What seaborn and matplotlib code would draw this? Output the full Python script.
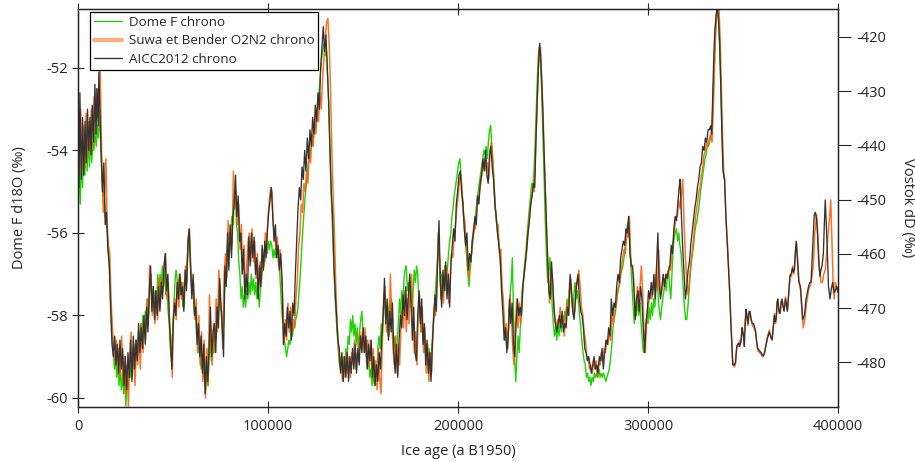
import numpy as np
import pandas as pd
import matplotlib
matplotlib.use("Agg")
import matplotlib.pyplot as plt
import seaborn as sns

# series names (legend order) and axis ticks
series_labels = ["Dome F chrono", "Suwa et Bender O2N2 chrono", "AICC2012 chrono"]
age_ticks = [0, 100000, 200000, 300000, 400000]
d18o_ticks = [-60, -58, -56, -54, -52]
dD_ticks = [-480, -470, -460, -450, -440, -430, -420]

# (age in ka, Dome F d18O)
domef_chrono = [
    (0.0, -55.2), (0.6, -54.6), (1.2, -55.3), (1.8, -54.2), (2.4, -54.9), (3.0, -53.9), (3.6, -54.6),
    (4.2, -53.8), (4.8, -54.5), (5.4, -53.6), (6.0, -54.4), (6.6, -53.7), (7.2, -54.3), (7.8, -53.8),
    (8.4, -54.0), (9.0, -53.5), (9.6, -53.9), (10.2, -53.4), (10.8, -53.7), (11.4, -53.0), (12.0, -53.6),
    (12.6, -54.5), (13.2, -55.1), (13.8, -55.0), (14.4, -55.6), (15.0, -55.8), (15.6, -56.1), (16.2, -56.5),
    (16.8, -57.2), (17.4, -57.9), (18.0, -58.5), (18.6, -58.9), (19.2, -59.3), (19.8, -59.0), (20.4, -59.5),
    (21.0, -59.2), (21.6, -59.7), (22.2, -59.3), (22.8, -59.8), (23.4, -59.4), (24.0, -59.9), (24.6, -59.5),
    (25.2, -60.2), (25.8, -59.4), (26.4, -59.8), (27.0, -59.2), (27.6, -59.5), (28.2, -58.9), (28.8, -59.3),
    (29.4, -58.7), (30.0, -59.1), (30.6, -58.6), (31.2, -59.0), (31.8, -58.4), (32.4, -58.7), (33.0, -58.2),
    (33.6, -58.6), (34.2, -58.0), (34.8, -58.4), (35.4, -57.9), (36.0, -58.3), (36.6, -57.6), (37.2, -58.0),
    (37.8, -57.2), (38.4, -57.0), (39.0, -57.8), (39.6, -57.3), (40.2, -57.9), (40.8, -57.4), (41.4, -57.8),
    (42.0, -57.0), (42.6, -57.5), (43.2, -57.0), (43.8, -57.3), (44.4, -56.8), (45.0, -57.3), (45.6, -56.9),
    (46.2, -57.5), (46.8, -57.3), (47.4, -57.9), (48.0, -58.2), (48.6, -58.8), (49.2, -59.1), (49.8, -58.4),
    (50.4, -57.8), (51.0, -57.2), (51.6, -56.9), (52.2, -57.1), (52.8, -57.4), (53.4, -57.0), (54.0, -57.5),
    (54.6, -57.2), (55.2, -57.8), (55.8, -57.4), (56.4, -57.1), (57.0, -57.3), (57.6, -56.6), (58.2, -56.1),
    (58.8, -56.2), (59.4, -56.9), (60.0, -57.4), (60.6, -57.3), (61.2, -57.9), (61.8, -57.8), (62.4, -58.5),
    (63.0, -58.3), (63.6, -58.9), (64.2, -58.7), (64.8, -59.3), (65.4, -58.9), (66.0, -59.5), (66.6, -59.2),
    (67.2, -59.8), (67.8, -59.3), (68.4, -59.7), (69.0, -59.0), (69.6, -58.6), (70.2, -59.1), (70.8, -58.5),
    (71.4, -58.9), (72.0, -58.3), (72.6, -58.6), (73.2, -57.8), (73.8, -58.2), (74.4, -57.4), (75.0, -57.8),
    (75.6, -57.9), (76.2, -58.4), (76.8, -58.1), (77.4, -57.0), (78.0, -57.2), (78.6, -56.3), (79.2, -56.6),
    (79.8, -56.0), (80.4, -56.2), (81.0, -55.6), (81.6, -55.8), (82.2, -55.3), (82.8, -55.0), (83.4, -55.8),
    (84.0, -56.0), (84.6, -56.7), (85.2, -57.0), (85.8, -57.6), (86.4, -57.3), (87.0, -57.8), (87.6, -57.5),
    (88.2, -57.8), (88.8, -57.4), (89.4, -57.6), (90.0, -57.2), (90.6, -57.5), (91.2, -57.0), (91.8, -57.4),
    (92.4, -57.1), (93.0, -57.5), (93.6, -57.2), (94.2, -57.6), (94.8, -57.3), (95.4, -57.8), (96.0, -57.4),
    (96.6, -57.1), (97.2, -56.9), (97.8, -56.5), (98.4, -56.7), (99.0, -56.3), (99.6, -56.5), (100.2, -56.2),
    (100.8, -56.4), (101.4, -56.2), (102.0, -56.3), (102.6, -56.6), (103.2, -56.4), (103.8, -56.6),
    (104.4, -56.3), (105.0, -56.4), (105.6, -56.7), (106.2, -57.0), (106.8, -57.5), (107.4, -58.0),
    (108.0, -58.2), (108.6, -58.6), (109.2, -58.8), (109.8, -59.0), (110.4, -58.8), (111.0, -58.6),
    (111.6, -58.7), (112.2, -58.4), (112.8, -58.5), (113.4, -58.3), (114.0, -58.3), (114.6, -58.1),
    (115.2, -58.0), (115.8, -57.8), (116.4, -57.4), (117.0, -57.0), (117.6, -56.5), (118.2, -56.0),
    (118.8, -55.6), (119.4, -55.2), (120.0, -54.9), (120.6, -54.6), (121.2, -54.3), (121.8, -54.2),
    (122.4, -54.0), (123.0, -53.9), (123.6, -53.8), (124.2, -53.6), (124.8, -53.5), (125.4, -53.3),
    (126.0, -53.1), (126.6, -52.7), (127.2, -52.4), (127.8, -52.0), (128.4, -51.7), (129.0, -51.5),
    (129.6, -51.4), (130.2, -51.7), (130.8, -51.6), (131.4, -52.2), (132.0, -52.9), (132.6, -54.0),
    (133.2, -55.0), (133.8, -55.7), (134.4, -56.5), (135.0, -57.2), (135.6, -57.8), (136.2, -58.3),
    (136.8, -58.7), (137.4, -59.1), (138.0, -59.3), (138.6, -59.0), (139.2, -59.4), (139.8, -59.0),
    (140.4, -59.3), (141.0, -58.8), (141.6, -59.1), (142.2, -58.5), (142.8, -58.7), (143.4, -58.1),
    (144.0, -58.4), (144.6, -58.0), (145.2, -58.5), (145.8, -58.2), (146.4, -58.7), (147.0, -58.3),
    (147.6, -58.9), (148.2, -58.4), (148.8, -58.1), (149.4, -57.9), (150.0, -58.4), (150.6, -58.8),
    (151.2, -58.5), (151.8, -59.1), (152.4, -59.3), (153.0, -59.0), (153.6, -59.5), (154.2, -59.3),
    (154.8, -59.7), (155.4, -59.4), (156.0, -59.7), (156.6, -59.2), (157.2, -59.5), (157.8, -58.8),
    (158.4, -58.5), (159.0, -58.8), (159.6, -58.2), (160.2, -58.5), (160.8, -57.8), (161.4, -57.6),
    (162.0, -58.2), (162.6, -57.9), (163.2, -58.5), (163.8, -57.7), (164.4, -58.0), (165.0, -57.6),
    (165.6, -58.2), (166.2, -58.8), (166.8, -58.5), (167.4, -59.1), (168.0, -58.6), (168.6, -58.2),
    (169.2, -57.6), (169.8, -58.0), (170.4, -57.4), (171.0, -57.8), (171.6, -57.1), (172.2, -56.9),
    (172.8, -56.8), (173.4, -57.4), (174.0, -57.2), (174.6, -57.8), (175.2, -57.3), (175.8, -57.9),
    (176.4, -57.4), (177.0, -56.9), (177.6, -57.2), (178.2, -56.8), (178.8, -57.0), (179.4, -57.6),
    (180.0, -58.0), (180.6, -58.4), (181.2, -58.1), (181.8, -58.7), (182.4, -58.5), (183.0, -59.0),
    (183.6, -58.7), (184.2, -59.2), (184.8, -58.8), (185.4, -59.3), (186.0, -58.9), (186.6, -58.5),
    (187.2, -58.0), (187.8, -57.6), (188.4, -57.2), (189.0, -56.8), (189.6, -56.4), (190.2, -56.6),
    (190.8, -57.2), (191.4, -57.0), (192.0, -57.5), (192.6, -57.1), (193.2, -57.4), (193.8, -56.8),
    (194.4, -56.9), (195.0, -56.5), (195.6, -56.2), (196.2, -56.0), (196.8, -55.6), (197.4, -55.4),
    (198.0, -55.1), (198.6, -54.9), (199.2, -54.7), (199.8, -54.5), (200.4, -54.3), (201.0, -54.2),
    (201.6, -54.6), (202.2, -55.0), (202.8, -55.4), (203.4, -55.9), (204.0, -56.3), (204.6, -56.6),
    (205.2, -57.0), (205.8, -57.3), (206.4, -56.9), (207.0, -56.6), (207.6, -56.3), (208.2, -56.0),
    (208.8, -55.7), (209.4, -55.5), (210.0, -55.2), (210.6, -55.0), (211.2, -54.8), (211.8, -54.6),
    (212.4, -54.4), (213.0, -54.2), (213.6, -54.0), (214.2, -54.1), (214.8, -53.9), (215.4, -54.2),
    (216.0, -53.8), (216.6, -53.5), (217.2, -53.4), (217.8, -53.9), (218.4, -54.3), (219.0, -54.8),
    (219.6, -55.4), (220.2, -55.7), (220.8, -56.0), (221.4, -56.2), (222.0, -56.5), (222.6, -56.9),
    (223.2, -57.3), (223.8, -57.8), (224.4, -58.3), (225.0, -58.6), (225.6, -58.4), (226.2, -58.8),
    (226.8, -58.0), (227.4, -57.5), (228.0, -57.2), (228.6, -56.6), (229.2, -57.9), (229.8, -59.0),
    (230.4, -59.6), (231.0, -59.0), (231.6, -58.5), (232.2, -58.9), (232.8, -58.3), (233.4, -58.0),
    (234.0, -57.5), (234.6, -57.0), (235.2, -56.7), (235.8, -56.4), (236.4, -56.0), (237.0, -55.7),
    (237.6, -55.4), (238.2, -55.1), (238.8, -54.8), (239.4, -54.9), (240.0, -54.5), (240.6, -53.8),
    (241.2, -53.0), (241.8, -52.2), (242.4, -51.6), (243.0, -51.5), (243.6, -52.0), (244.2, -52.8),
    (244.8, -53.8), (245.4, -54.8), (246.0, -55.8), (246.6, -56.6), (247.2, -57.2), (247.8, -57.0),
    (248.4, -56.6), (249.0, -57.1), (249.6, -57.8), (250.2, -58.2), (250.8, -58.5), (251.4, -58.3),
    (252.0, -58.6), (252.6, -58.2), (253.2, -58.5), (253.8, -58.1), (254.4, -58.4), (255.0, -58.0),
    (255.6, -58.3), (256.2, -57.9), (256.8, -58.1), (257.4, -57.6), (258.0, -57.9), (258.6, -57.4),
    (259.2, -57.2), (259.8, -57.6), (260.4, -57.9), (261.0, -57.5), (261.6, -57.2), (262.2, -57.6),
    (262.8, -57.4), (263.4, -57.7), (264.0, -58.0), (264.6, -58.3), (265.2, -58.6), (265.8, -58.9),
    (266.4, -59.1), (267.0, -59.2), (267.6, -59.5), (268.2, -59.4), (268.8, -59.6), (269.4, -59.5),
    (270.0, -59.7), (270.6, -59.5), (271.2, -59.6), (271.8, -59.4), (272.4, -59.5), (273.0, -59.4),
    (273.6, -59.5), (274.2, -59.3), (274.8, -59.5), (275.4, -59.4), (276.0, -59.5), (276.6, -59.4),
    (277.2, -59.5), (277.8, -59.6), (278.4, -59.5), (279.0, -59.4), (279.6, -59.3), (280.2, -59.1),
    (280.8, -58.8), (281.4, -58.4), (282.0, -58.1), (282.6, -58.0), (283.2, -57.8), (283.8, -57.5),
    (284.4, -57.4), (285.0, -57.2), (285.6, -57.0), (286.2, -56.9), (286.8, -56.8), (287.4, -56.6),
    (288.0, -56.3), (288.6, -56.0), (289.2, -55.8), (289.8, -55.7), (290.4, -56.2), (291.0, -56.8),
    (291.6, -57.3), (292.2, -57.8), (292.8, -58.2), (293.4, -57.8), (294.0, -58.0), (294.6, -57.6),
    (295.2, -58.0), (295.8, -57.7), (296.4, -58.2), (297.0, -58.6), (297.6, -58.9), (298.2, -58.7),
    (298.8, -58.4), (299.4, -58.0), (300.0, -58.2), (300.6, -57.8), (301.2, -58.1), (301.8, -57.7),
    (302.4, -58.0), (303.0, -57.6), (303.6, -57.8), (304.2, -57.3), (304.8, -57.1), (305.4, -57.6),
    (306.0, -57.9), (306.6, -58.1), (307.2, -57.8), (307.8, -57.6), (308.4, -57.4), (309.0, -57.2),
    (309.6, -57.4), (310.2, -57.0), (310.8, -56.9), (311.4, -57.3), (312.0, -57.6), (312.6, -57.0),
    (313.2, -56.4), (313.8, -56.1), (314.4, -56.0), (315.0, -55.9), (315.6, -56.2), (316.2, -56.0),
    (316.8, -56.3), (317.4, -56.5), (318.0, -56.9), (318.6, -57.4), (319.2, -57.8), (319.8, -58.1),
    (320.4, -58.1), (321.0, -57.8), (321.6, -57.4), (322.2, -57.0), (322.8, -56.7), (323.4, -56.5),
    (324.0, -56.3), (324.6, -56.0), (325.2, -55.8), (325.8, -55.7), (326.4, -55.5), (327.0, -55.3),
    (327.6, -55.0), (328.2, -54.8), (328.8, -54.6), (329.4, -54.4), (330.0, -54.2), (330.6, -54.1),
    (331.2, -53.9), (331.8, -53.9), (332.4, -53.8), (333.0, -53.7), (333.6, -53.6), (334.2, -52.8),
    (334.8, -51.9), (335.4, -51.1), (336.0, -50.7), (336.6, -50.6), (337.2, -50.9), (337.8, -51.6),
    (338.4, -52.6), (339.0, -53.7), (339.6, -54.5), (340.2, -54.7),
]

# (age in ka, d18O) on the Suwa & Bender O2/N2 chronology
suwa_chrono = [
    (0.0, -54.0), (0.7, -54.6), (1.4, -53.0), (2.1, -54.5), (2.8, -53.4), (3.5, -54.4), (4.2, -53.1),
    (4.9, -54.2), (5.6, -53.3), (6.3, -54.0), (7.0, -53.0), (7.7, -53.9), (8.4, -52.7), (9.1, -53.6),
    (9.8, -52.5), (10.5, -53.2), (11.2, -52.4), (11.6, -51.9), (12.0, -52.9), (12.6, -54.6), (13.3, -55.5),
    (14.0, -55.0), (14.7, -54.2), (15.3, -55.7), (16.0, -56.3), (16.7, -56.5), (17.4, -57.6), (18.1, -58.3),
    (18.8, -58.9), (19.5, -59.1), (20.2, -58.6), (20.9, -59.3), (21.6, -58.8), (22.3, -59.5), (23.0, -58.5),
    (23.7, -59.6), (24.4, -59.0), (25.1, -59.9), (25.8, -59.2), (26.5, -60.2), (27.2, -59.1), (27.9, -58.4),
    (28.6, -59.5), (29.3, -58.7), (30.0, -59.7), (30.7, -58.6), (31.4, -59.2), (32.1, -58.4), (32.8, -59.3),
    (33.5, -58.2), (34.2, -58.9), (34.9, -58.1), (35.6, -58.6), (36.3, -57.6), (37.0, -58.2), (37.7, -56.8),
    (38.4, -57.1), (39.1, -58.0), (39.8, -57.4), (40.5, -58.2), (41.2, -57.5), (41.9, -58.1), (42.6, -57.1),
    (43.3, -57.8), (44.0, -57.1), (44.7, -57.4), (45.4, -56.7), (46.1, -56.5), (46.8, -57.6), (47.5, -57.2),
    (48.2, -58.2), (48.9, -58.6), (49.6, -59.5), (50.3, -58.0), (51.0, -57.6), (51.7, -58.1), (52.4, -57.1),
    (53.1, -57.8), (53.8, -57.0), (54.5, -57.6), (55.2, -57.2), (55.9, -57.8), (56.6, -56.8), (57.3, -57.2),
    (58.0, -56.1), (58.7, -55.9), (59.4, -57.0), (60.1, -57.5), (60.8, -57.2), (61.5, -58.1), (62.2, -57.6),
    (62.9, -58.9), (63.6, -58.0), (64.3, -59.2), (65.0, -58.4), (65.7, -59.6), (66.4, -58.6), (67.1, -60.0),
    (67.8, -58.8), (68.5, -59.7), (69.2, -57.5), (69.9, -58.6), (70.6, -59.2), (71.3, -58.2), (72.0, -58.9),
    (72.7, -57.6), (73.4, -58.4), (74.1, -56.9), (74.8, -57.6), (75.5, -57.9), (76.2, -58.8), (76.9, -57.0),
    (77.6, -56.5), (78.3, -57.1), (79.0, -55.7), (79.7, -56.5), (80.4, -55.9), (81.1, -56.3), (81.8, -54.5),
    (82.5, -55.4), (83.2, -55.0), (83.9, -55.8), (84.6, -55.3), (85.3, -56.4), (86.0, -55.8), (86.7, -56.9),
    (87.4, -56.3), (88.1, -57.5), (88.8, -56.8), (89.5, -56.2), (90.2, -56.0), (90.9, -56.7), (91.6, -55.9),
    (92.3, -56.7), (93.0, -56.2), (93.7, -57.1), (94.4, -56.5), (95.1, -57.4), (95.8, -56.7), (96.5, -57.2),
    (97.2, -56.4), (97.9, -56.8), (98.6, -56.0), (99.3, -56.4), (100.0, -55.6), (100.7, -55.2),
    (101.4, -54.9), (102.1, -55.0), (102.8, -55.8), (103.5, -56.0), (104.2, -56.4), (104.9, -56.1),
    (105.6, -56.8), (106.3, -56.4), (107.0, -57.0), (107.7, -57.5), (108.4, -58.7), (109.1, -58.1),
    (109.8, -58.6), (110.5, -57.7), (111.2, -58.4), (111.9, -57.8), (112.6, -58.5), (113.3, -58.1),
    (114.0, -58.3), (114.7, -57.6), (115.4, -57.2), (116.1, -56.3), (116.8, -56.0), (117.5, -55.3),
    (118.2, -55.5), (118.9, -54.8), (119.6, -55.0), (120.3, -54.5), (121.0, -54.8), (121.7, -54.0),
    (122.4, -54.3), (123.1, -53.6), (123.8, -53.9), (124.5, -53.2), (125.2, -53.6), (125.9, -53.0),
    (126.6, -53.3), (127.3, -52.6), (128.0, -53.0), (128.7, -52.3), (129.4, -51.8), (130.1, -51.3),
    (130.8, -50.9), (131.5, -50.8), (132.2, -51.4), (132.9, -52.5), (133.6, -54.0), (134.3, -55.1),
    (135.0, -56.1), (135.7, -57.3), (136.4, -58.2), (137.1, -58.8), (137.8, -59.2), (138.5, -59.0),
    (139.2, -59.6), (139.9, -59.1), (140.6, -59.5), (141.3, -58.9), (142.0, -59.4), (142.7, -59.0),
    (143.4, -59.5), (144.1, -58.9), (144.8, -59.2), (145.5, -58.6), (146.2, -59.3), (146.9, -58.9),
    (147.6, -59.1), (148.3, -58.4), (149.0, -58.8), (149.7, -58.4), (150.4, -58.9), (151.1, -58.3),
    (151.8, -59.0), (152.5, -58.6), (153.2, -59.2), (153.9, -58.6), (154.6, -59.3), (155.3, -58.8),
    (156.0, -59.6), (156.7, -59.1), (157.4, -59.8), (158.1, -58.8), (158.8, -59.5), (159.5, -59.9),
    (160.2, -58.6), (160.9, -57.6), (161.6, -57.3), (162.3, -58.4), (163.0, -57.8), (163.7, -58.5),
    (164.4, -57.0), (165.1, -58.1), (165.8, -58.8), (166.5, -59.2), (167.2, -58.5), (167.9, -59.4),
    (168.6, -58.7), (169.3, -59.2), (170.0, -58.2), (170.7, -57.8), (171.4, -58.3), (172.1, -57.4),
    (172.8, -58.4), (173.5, -57.6), (174.2, -58.2), (174.9, -57.3), (175.6, -57.0), (176.3, -58.0),
    (177.0, -58.9), (177.7, -58.4), (178.4, -59.2), (179.1, -57.9), (179.8, -57.5), (180.5, -58.4),
    (181.2, -57.8), (181.9, -58.9), (182.6, -58.3), (183.3, -59.4), (184.0, -58.7), (184.7, -59.6),
    (185.4, -58.9), (186.1, -59.4), (186.8, -58.4), (187.5, -57.8), (188.2, -58.0), (188.9, -57.2),
    (189.6, -56.0), (190.3, -56.6), (191.0, -57.6), (191.7, -57.2), (192.4, -57.7), (193.1, -56.8),
    (193.8, -57.3), (194.5, -56.9), (195.2, -57.7), (195.9, -57.1), (196.6, -56.5), (197.3, -56.6),
    (198.0, -56.0), (198.7, -55.8), (199.4, -55.4), (200.1, -55.1), (200.8, -54.7), (201.5, -54.6),
    (202.2, -55.1), (202.9, -55.6), (203.6, -55.7), (204.3, -56.3), (205.0, -56.7), (205.7, -57.1),
    (206.4, -56.6), (207.1, -56.5), (207.8, -56.0), (208.5, -55.8), (209.2, -55.9), (209.9, -55.4),
    (210.6, -55.2), (211.3, -55.0), (212.0, -54.8), (212.7, -54.5), (213.4, -54.4), (214.1, -54.2),
    (214.8, -54.5), (215.5, -54.3), (216.2, -54.7), (216.9, -54.0), (217.6, -53.8), (218.3, -54.2),
    (219.0, -54.9), (219.7, -55.4), (220.4, -55.8), (221.1, -55.8), (221.8, -56.5), (222.5, -56.4),
    (223.2, -57.3), (223.9, -57.7), (224.6, -58.4), (225.3, -58.2), (226.0, -58.8), (226.7, -58.3),
    (227.4, -57.5), (228.1, -58.0), (228.8, -58.8), (229.5, -59.2), (230.2, -58.3), (230.9, -57.6),
    (231.6, -58.3), (232.3, -57.7), (233.0, -58.2), (233.7, -57.4), (234.4, -57.2), (235.1, -56.9),
    (235.8, -56.6), (236.5, -56.1), (237.2, -55.8), (237.9, -55.4), (238.6, -55.2), (239.3, -54.9),
    (240.0, -55.0), (240.7, -54.2), (241.4, -53.2), (242.1, -52.2), (242.8, -51.5), (243.4, -51.5),
    (244.0, -52.2), (244.7, -53.0), (245.4, -54.2), (246.1, -55.2), (246.8, -56.2), (247.5, -57.0),
    (248.2, -57.7), (248.9, -56.9), (249.6, -57.1), (250.3, -57.7), (251.0, -58.1), (251.7, -58.3),
    (252.4, -58.1), (253.1, -58.2), (253.8, -57.8), (254.5, -58.2), (255.2, -58.0), (255.9, -58.5),
    (256.6, -58.1), (257.3, -57.7), (258.0, -58.0), (258.7, -57.2), (259.4, -57.1), (260.1, -57.7),
    (260.8, -58.0), (261.5, -57.9), (262.2, -57.3), (262.9, -57.2), (263.6, -56.9), (264.3, -57.3),
    (265.0, -57.8), (265.7, -58.0), (266.4, -58.4), (267.1, -58.6), (267.8, -59.0), (268.5, -59.0),
    (269.2, -59.3), (269.9, -59.2), (270.6, -59.4), (271.3, -59.1), (272.0, -59.3), (272.7, -59.1),
    (273.4, -59.5), (274.1, -59.1), (274.8, -59.2), (275.5, -58.9), (276.2, -59.1), (276.9, -58.8),
    (277.6, -58.9), (278.3, -58.6), (279.0, -58.7), (279.7, -58.4), (280.4, -58.6), (281.1, -57.9),
    (281.8, -58.2), (282.5, -57.7), (283.2, -57.8), (283.9, -57.4), (284.6, -57.3), (285.3, -57.2),
    (286.0, -56.8), (286.7, -56.6), (287.4, -56.4), (288.1, -56.5), (288.8, -56.0), (289.5, -56.1),
    (290.2, -55.6), (290.9, -56.6), (291.6, -56.9), (292.3, -57.0), (293.0, -57.6), (293.7, -58.0),
    (294.4, -57.3), (295.1, -57.6), (295.8, -57.3), (296.5, -56.8), (297.2, -57.4), (297.9, -58.4),
    (298.6, -58.9), (299.3, -58.1), (300.0, -57.8), (300.7, -57.6), (301.4, -57.4), (302.1, -57.6),
    (302.8, -57.2), (303.5, -57.3), (304.2, -57.0), (304.9, -57.4), (305.6, -56.4), (306.3, -57.2),
    (307.0, -57.5), (307.7, -57.3), (308.4, -57.1), (309.1, -57.2), (309.8, -57.0), (310.5, -57.1),
    (311.2, -56.8), (311.9, -56.9), (312.6, -56.4), (313.3, -56.2), (314.0, -55.9), (314.7, -55.6),
    (315.4, -55.6), (316.1, -55.2), (316.8, -55.4), (317.5, -55.1), (318.3, -54.7), (319.0, -55.8),
    (319.7, -56.6), (320.4, -57.2), (321.1, -57.5), (321.8, -57.2), (322.5, -56.8), (323.2, -56.5),
    (323.9, -56.2), (324.6, -55.8), (325.3, -55.5), (326.0, -55.3), (326.7, -55.0), (327.4, -54.9),
    (328.1, -54.6), (328.8, -54.4), (329.5, -54.1), (330.2, -54.0), (330.9, -53.8), (331.6, -53.9),
    (332.3, -53.7), (333.0, -53.6), (333.7, -53.8), (334.4, -53.0), (335.0, -52.0), (335.6, -51.2),
    (336.2, -50.7), (336.8, -50.5), (337.4, -50.6), (338.0, -51.3), (338.6, -52.5), (339.2, -53.6),
    (339.8, -54.5), (340.3, -54.7), (341.0, -55.6), (342.0, -56.4), (343.0, -57.4), (343.8, -58.3),
    (344.6, -59.1), (345.3, -59.25), (346.0, -59.2), (346.7, -58.8), (347.2, -58.7), (347.8, -58.75),
    (348.3, -58.6), (349.0, -58.65), (349.5, -58.3), (350.0, -58.45), (350.5, -58.55), (351.0, -58.2),
    (351.5, -57.9), (352.0, -58.05), (352.6, -58.25), (353.2, -57.95), (353.8, -58.0), (354.4, -58.15),
    (355.1, -58.25), (355.8, -58.3), (356.6, -58.4), (357.2, -58.65), (357.8, -58.85), (358.7, -58.9),
    (359.6, -58.95), (360.2, -59.0), (360.8, -58.98), (361.4, -58.9), (362.1, -58.7), (363.0, -58.5),
    (363.9, -58.35), (364.6, -58.55), (365.4, -58.55), (366.0, -58.25), (366.6, -57.95), (367.1, -58.2),
    (367.6, -58.05), (368.1, -57.65), (368.5, -57.7), (369.1, -57.95), (369.7, -57.9), (370.2, -57.65),
    (370.7, -57.65), (371.2, -57.8), (371.8, -57.85), (372.4, -57.55), (372.9, -57.75), (373.5, -57.85),
    (374.2, -57.4), (374.9, -57.0), (375.5, -57.05), (376.2, -56.8), (376.7, -57.0), (377.2, -56.85),
    (377.7, -56.4), (378.2, -56.25), (378.8, -56.7), (379.5, -57.2), (380.4, -57.4), (381.0, -57.8),
    (381.7, -58.3), (382.5, -58.1), (383.4, -57.7), (384.7, -57.35), (385.5, -57.25), (386.2, -57.1),
    (387.0, -56.8), (387.8, -56.0), (388.8, -55.55), (389.5, -56.2), (390.3, -56.9), (391.0, -57.2),
    (391.8, -57.2), (392.5, -57.0), (393.3, -56.9), (394.0, -56.5), (394.8, -56.0), (395.6, -55.6),
    (396.2, -55.2), (396.9, -56.3), (397.5, -57.3), (398.0, -57.6), (398.6, -57.2), (399.2, -57.3),
    (400.0, -57.35),
]

# (age in ka, d18O) on the AICC2012 chronology
aicc_chrono = [
    (0.0, -53.9), (0.5, -54.9), (1.0, -52.6), (1.7, -54.7), (2.4, -53.2), (3.0, -54.6), (3.7, -53.3),
    (4.3, -54.3), (5.0, -53.0), (5.6, -54.0), (6.3, -53.2), (6.9, -54.1), (7.5, -52.9), (8.2, -53.8),
    (8.9, -52.4), (9.5, -53.6), (10.0, -52.5), (10.6, -53.4), (11.0, -52.1), (11.5, -53.0), (12.2, -54.2),
    (12.9, -55.0), (13.6, -54.3), (14.3, -55.8), (15.0, -55.5), (15.7, -56.4), (16.5, -56.8), (17.2, -57.9),
    (17.9, -58.7), (18.6, -59.0), (19.3, -58.5), (20.0, -59.2), (20.7, -58.7), (21.4, -59.4), (22.1, -58.6),
    (22.8, -59.3), (23.5, -58.8), (24.2, -59.7), (24.9, -59.0), (25.6, -59.8), (26.3, -58.9), (27.0, -59.5),
    (27.7, -58.6), (28.4, -59.6), (29.1, -58.5), (29.8, -59.3), (30.5, -58.6), (31.2, -59.1), (31.9, -58.2),
    (32.6, -58.9), (33.3, -58.3), (34.0, -58.8), (34.7, -58.0), (35.4, -58.7), (36.1, -57.8), (36.8, -58.4),
    (37.5, -57.5), (38.2, -56.8), (38.9, -57.9), (39.6, -57.3), (40.3, -58.1), (41.0, -57.4), (41.7, -58.0),
    (42.4, -57.3), (43.1, -57.9), (43.8, -57.2), (44.5, -57.6), (45.2, -56.9), (45.9, -56.5), (46.6, -57.4),
    (47.3, -57.0), (48.0, -58.0), (48.7, -58.7), (49.4, -59.3), (50.1, -58.2), (50.8, -57.7), (51.5, -58.0),
    (52.2, -57.2), (52.9, -57.6), (53.6, -57.0), (54.3, -57.5), (55.0, -57.3), (55.7, -57.9), (56.4, -56.9),
    (57.1, -57.4), (57.8, -56.3), (58.5, -55.9), (59.2, -56.8), (59.9, -57.6), (60.6, -57.0), (61.3, -58.0),
    (62.0, -57.8), (62.7, -58.7), (63.4, -58.2), (64.1, -59.0), (64.8, -58.5), (65.5, -59.4), (66.2, -58.7),
    (66.9, -59.9), (67.6, -59.0), (68.3, -59.6), (69.0, -58.8), (69.7, -57.8), (70.4, -59.0), (71.1, -58.4),
    (71.8, -58.2), (72.5, -58.9), (73.2, -57.8), (73.9, -58.3), (74.6, -57.1), (75.3, -57.8), (76.0, -58.4),
    (76.6, -59.0), (77.3, -56.8), (78.0, -57.3), (78.7, -56.0), (79.4, -56.9), (80.1, -55.8), (80.8, -56.6),
    (81.5, -55.6), (82.2, -55.3), (82.9, -54.6), (83.6, -55.6), (84.3, -55.1), (85.0, -56.2), (85.7, -56.0),
    (86.4, -57.0), (87.1, -56.4), (87.8, -57.6), (88.5, -57.0), (89.2, -57.5), (89.9, -56.1), (90.6, -56.8),
    (91.3, -56.0), (92.0, -56.6), (92.7, -56.1), (93.4, -57.0), (94.1, -56.6), (94.8, -57.6), (95.5, -56.8),
    (96.2, -57.3), (96.9, -56.3), (97.6, -56.9), (98.3, -56.2), (99.0, -56.6), (99.7, -55.9), (100.4, -55.5),
    (101.1, -55.2), (101.8, -54.9), (102.5, -55.6), (103.2, -56.2), (103.9, -55.8), (104.6, -56.6),
    (105.3, -56.3), (106.0, -56.9), (106.7, -56.5), (107.4, -57.1), (108.1, -58.7), (108.8, -58.2),
    (109.5, -58.5), (110.2, -57.8), (110.9, -58.3), (111.6, -57.9), (112.3, -58.6), (113.0, -57.7),
    (113.7, -58.0), (114.4, -57.0), (115.1, -56.2), (115.8, -55.4), (116.5, -54.9), (117.2, -55.2),
    (117.9, -54.4), (118.6, -54.7), (119.3, -54.0), (120.0, -54.5), (120.7, -53.7), (121.4, -54.2),
    (122.1, -53.5), (122.8, -53.9), (123.5, -53.2), (124.2, -53.6), (124.9, -52.9), (125.6, -53.3),
    (126.3, -52.6), (127.0, -53.0), (127.7, -52.0), (128.4, -51.5), (129.1, -51.0), (129.8, -51.6),
    (130.5, -51.2), (131.2, -52.0), (131.9, -52.8), (132.6, -54.0), (133.3, -55.0), (134.0, -55.6),
    (134.7, -56.8), (135.4, -57.5), (136.1, -58.0), (136.8, -58.6), (137.5, -58.8), (138.2, -59.4),
    (138.9, -58.9), (139.6, -59.6), (140.3, -59.0), (141.0, -59.5), (141.7, -58.9), (142.4, -59.6),
    (143.1, -59.0), (143.8, -59.4), (144.5, -58.8), (145.2, -59.3), (145.9, -58.7), (146.6, -59.4),
    (147.3, -58.8), (148.0, -59.2), (148.7, -58.5), (149.4, -58.9), (150.1, -58.3), (150.8, -58.9),
    (151.5, -58.5), (152.2, -59.3), (152.9, -58.7), (153.6, -59.1), (154.3, -58.6), (155.0, -59.5),
    (155.7, -59.0), (156.4, -59.7), (157.1, -59.2), (157.8, -59.6), (158.5, -58.9), (159.2, -59.3),
    (159.9, -58.5), (160.6, -58.0), (161.3, -57.1), (162.0, -58.2), (162.7, -57.6), (163.4, -58.6),
    (164.1, -57.9), (164.8, -58.4), (165.5, -57.7), (166.2, -58.9), (166.9, -59.4), (167.6, -58.7),
    (168.3, -59.5), (169.0, -58.6), (169.7, -58.0), (170.4, -58.3), (171.1, -57.5), (171.8, -58.0),
    (172.5, -57.3), (173.2, -58.1), (173.9, -57.5), (174.6, -57.0), (175.3, -57.7), (176.0, -58.6),
    (176.7, -57.8), (177.4, -58.9), (178.1, -59.1), (178.8, -58.0), (179.5, -57.4), (180.2, -58.2),
    (180.9, -57.6), (181.6, -58.7), (182.3, -58.2), (183.0, -59.2), (183.7, -58.6), (184.4, -59.4),
    (185.1, -58.9), (185.8, -59.6), (186.5, -58.7), (187.2, -58.1), (187.9, -57.5), (188.6, -57.9),
    (189.3, -56.6), (190.0, -55.7), (190.7, -57.2), (191.4, -57.8), (192.1, -56.9), (192.8, -57.4),
    (193.5, -56.7), (194.2, -57.6), (194.9, -57.0), (195.6, -57.8), (196.3, -56.7), (197.0, -56.3),
    (197.7, -55.9), (198.4, -56.2), (199.1, -55.3), (199.8, -55.0), (200.5, -54.6), (201.2, -54.5),
    (201.9, -55.0), (202.6, -55.3), (203.3, -55.9), (204.0, -56.3), (204.7, -56.0), (205.4, -56.9),
    (206.1, -56.5), (206.8, -56.7), (207.5, -56.2), (208.2, -56.0), (208.9, -55.6), (209.6, -55.8),
    (210.3, -55.1), (211.0, -55.3), (211.7, -54.8), (212.4, -54.6), (213.1, -54.2), (213.8, -54.5),
    (214.5, -54.0), (215.2, -54.6), (215.9, -54.8), (216.6, -54.1), (217.3, -53.9), (218.0, -54.4),
    (218.7, -54.7), (219.4, -55.3), (220.1, -55.6), (220.8, -56.0), (221.5, -56.3), (222.2, -56.6),
    (222.9, -57.4), (223.6, -57.9), (224.3, -58.6), (225.0, -58.3), (225.7, -58.9), (226.4, -58.5),
    (227.1, -57.6), (227.8, -58.2), (228.5, -57.7), (229.2, -58.7), (229.9, -59.0), (230.6, -58.2),
    (231.3, -57.6), (232.0, -58.0), (232.7, -57.8), (233.4, -58.0), (234.1, -57.3), (234.8, -57.0),
    (235.5, -56.7), (236.2, -56.4), (236.9, -56.0), (237.6, -55.7), (238.3, -55.3), (239.0, -55.1),
    (239.7, -54.8), (240.4, -54.9), (241.0, -53.8), (241.7, -52.8), (242.4, -51.9), (243.0, -51.4),
    (243.6, -51.8), (244.3, -52.6), (245.0, -53.6), (245.7, -54.6), (246.4, -55.6), (247.1, -56.5),
    (247.8, -57.4), (248.5, -57.6), (249.2, -56.7), (249.9, -57.2), (250.6, -57.9), (251.3, -58.2),
    (252.0, -58.4), (252.7, -58.2), (253.4, -58.0), (254.1, -58.3), (254.8, -57.9), (255.5, -58.4),
    (256.2, -58.2), (256.9, -58.3), (257.6, -57.8), (258.3, -58.0), (259.0, -57.0), (259.7, -57.4),
    (260.4, -57.9), (261.1, -58.1), (261.8, -57.6), (262.5, -57.2), (263.2, -57.0), (263.9, -57.6),
    (264.6, -57.9), (265.3, -58.0), (266.0, -58.3), (266.7, -58.8), (267.4, -58.9), (268.1, -59.1),
    (268.8, -59.0), (269.5, -59.2), (270.2, -59.4), (270.9, -59.2), (271.6, -59.0), (272.3, -59.3),
    (273.0, -59.2), (273.7, -59.4), (274.4, -59.0), (275.1, -59.1), (275.8, -58.8), (276.5, -59.3),
    (277.2, -58.9), (277.9, -58.6), (278.6, -58.7), (279.3, -58.3), (280.0, -58.5), (280.7, -57.6),
    (281.4, -58.0), (282.1, -57.7), (282.8, -57.8), (283.5, -57.3), (284.2, -57.0), (284.9, -57.2),
    (285.6, -56.6), (286.3, -56.4), (287.0, -56.2), (287.7, -56.3), (288.4, -55.9), (289.1, -56.0),
    (289.8, -55.6), (290.5, -56.5), (291.2, -56.8), (291.9, -56.8), (292.6, -57.4), (293.3, -58.1),
    (294.0, -57.6), (294.7, -57.4), (295.4, -57.9), (296.1, -57.3), (296.8, -57.6), (297.5, -58.3),
    (298.2, -58.9), (298.9, -58.2), (299.6, -57.9), (300.3, -57.4), (301.0, -57.6), (301.7, -57.2),
    (302.4, -57.5), (303.1, -57.0), (303.8, -57.6), (304.5, -56.8), (305.2, -56.0), (305.9, -57.3),
    (306.6, -57.6), (307.3, -57.3), (308.0, -57.0), (308.7, -57.3), (309.4, -57.0), (310.1, -57.1),
    (310.8, -56.9), (311.5, -56.8), (312.2, -56.3), (312.9, -56.5), (313.6, -55.9), (314.3, -55.6),
    (315.0, -55.7), (315.7, -55.3), (316.4, -54.9), (316.9, -54.7), (317.6, -55.6), (318.3, -56.4),
    (319.0, -57.0), (319.7, -57.6), (320.4, -57.3), (321.1, -56.9), (321.8, -56.7), (322.5, -56.3),
    (323.2, -56.0), (323.9, -55.7), (324.6, -55.4), (325.3, -55.2), (326.0, -54.9), (326.7, -54.7),
    (327.4, -54.4), (328.1, -54.3), (328.8, -53.9), (329.5, -54.0), (330.2, -53.7), (330.9, -53.8),
    (331.6, -53.5), (332.3, -53.5), (333.0, -53.4), (333.5, -53.6), (334.1, -52.6), (334.7, -51.6),
    (335.3, -51.0), (335.9, -50.7), (336.5, -50.5), (337.1, -50.8), (337.7, -51.4), (338.3, -52.4),
    (338.9, -53.6), (339.5, -54.5), (340.3, -54.7), (341.0, -55.6), (342.0, -56.5), (343.0, -57.45),
    (343.8, -58.4), (344.6, -59.2), (345.3, -59.2), (346.0, -59.15), (346.7, -58.75), (347.2, -58.7),
    (347.7, -58.67), (348.3, -58.75), (349.0, -58.6), (349.5, -58.3), (349.8, -58.4), (350.3, -58.5),
    (350.7, -58.75), (351.1, -58.3), (351.6, -57.85), (352.1, -58.0), (352.6, -58.2), (353.2, -57.9),
    (353.7, -57.9), (354.3, -58.1), (355.0, -58.2), (355.6, -58.2), (356.5, -58.35), (357.1, -58.6),
    (357.7, -58.8), (358.6, -58.85), (359.5, -58.9), (360.1, -58.95), (360.7, -58.98), (361.3, -58.9),
    (362.0, -58.75), (362.9, -58.55), (363.8, -58.4), (364.5, -58.5), (365.3, -58.6), (365.9, -58.3),
    (366.5, -58.0), (367.0, -58.15), (367.4, -58.1), (367.9, -57.7), (368.3, -57.6), (368.9, -57.9),
    (369.5, -57.95), (370.0, -57.7), (370.5, -57.6), (371.0, -57.75), (371.6, -57.9), (372.3, -57.6),
    (372.8, -57.7), (373.3, -57.9), (374.0, -57.5), (374.7, -57.05), (375.3, -57.0), (376.0, -56.85),
    (376.5, -56.95), (377.0, -56.9), (377.5, -56.5), (378.0, -56.2), (378.6, -56.6), (379.3, -57.15),
    (380.2, -57.3), (380.8, -57.7), (381.4, -58.1), (382.3, -58.0), (383.2, -57.6), (384.5, -57.3),
    (385.2, -57.2), (385.8, -57.2), (386.7, -56.35), (387.5, -55.55), (388.1, -55.5), (388.8, -55.7),
    (389.3, -56.1), (389.8, -56.65), (390.5, -57.05), (391.0, -56.9), (391.6, -56.8), (392.3, -56.5),
    (392.8, -55.8), (393.3, -55.2), (394.2, -56.2), (395.0, -57.3), (395.8, -57.6), (396.5, -57.35),
    (397.2, -57.2), (397.9, -57.45), (398.6, -57.4), (399.3, -57.3), (400.0, -57.45),
]

frames = []
for label, pts in zip(series_labels, [domef_chrono, suwa_chrono, aicc_chrono]):
    df = pd.DataFrame(pts, columns=["age_ka", "d18O"])
    df["age"] = df["age_ka"] * 1000
    df["chrono"] = label
    frames.append(df)
data = pd.concat(frames, ignore_index=True)

sns.set_style("ticks")
plt.rcParams['font.family'] = ['Open Sans', 'DejaVu Sans']
plt.rcParams['font.size'] = 10.5
plt.rcParams['axes.unicode_minus'] = False

fig = plt.figure(figsize=(9.15, 4.62), dpi=100)
ax = fig.add_axes([78 / 915, 1 - 407 / 462, 760 / 915, 398 / 462])

colors = {"Dome F chrono": "#1ed400",
          "Suwa et Bender O2N2 chrono": "#ff5a00",
          "AICC2012 chrono": "#333333"}
widths = {"Dome F chrono": 1.0, "Suwa et Bender O2N2 chrono": 1.1, "AICC2012 chrono": 0.95}
alphas = {"Dome F chrono": 1.0, "Suwa et Bender O2N2 chrono": 0.85, "AICC2012 chrono": 1.0}

for label in series_labels:
    sub = data[data["chrono"] == label]
    sns.lineplot(data=sub, x="age", y="d18O", color=colors[label], linewidth=widths[label],
                 alpha=alphas[label], label=label, estimator=None, sort=False, ax=ax)

ax.set_xlim(0, 400000)
ax.set_ylim(-60.22, -50.57)
ax.set_xticks(age_ticks)
ax.set_xticklabels([str(t) for t in age_ticks])
ax.set_yticks(d18o_ticks)
ax.set_xlabel("Ice age (a B1950)", labelpad=7)
ax.set_ylabel("Dome F d18O (‰)", labelpad=14)
ax.tick_params(axis="x", direction="inout", length=8, width=0.8, top=True, pad=5)
ax.tick_params(axis="y", direction="inout", length=8, width=0.8, pad=3)

ax2 = ax.twinx()
ax2.set_ylim(-488.22, -414.84)
ax2.set_yticks(dD_ticks)
ax2.set_ylabel("Vostok dD (‰)", rotation=270, labelpad=21)
ax2.tick_params(axis="y", direction="out", length=9, width=0.8, pad=4)

for a in (ax, ax2):
    for s in a.spines.values():
        s.set_visible(True)
        s.set_color("#222222")
        s.set_linewidth(0.9)

leg = ax.legend(loc="upper left", bbox_to_anchor=(12 / 760, 1 - 3 / 398), borderaxespad=0,
                frameon=True, fancybox=False, edgecolor="black", framealpha=1, fontsize=9.6,
                handlelength=2.1, handletextpad=0.5, labelspacing=0.4, borderpad=0.3)
leg.get_frame().set_linewidth(0.9)
leg_lines = leg.get_lines()
leg_lines[1].set_linewidth(3)
leg_lines[1].set_alpha(0.5)

fig.savefig("out.png", dpi=100)
